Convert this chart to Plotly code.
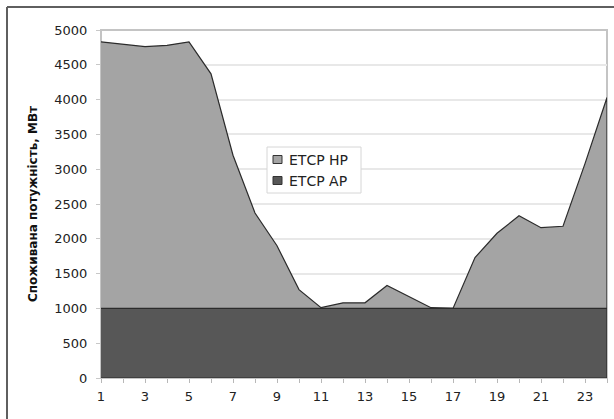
import plotly.graph_objects as go

# Hourly power consumption, MW
hours = list(range(1, 25))
etsr_np = [4830, 4800, 4760, 4780, 4830, 4370, 3200, 2370, 1900, 1270, 1010, 1080,
           1080, 1330, 1170, 1010, 1000, 1730, 2080, 2330, 2160, 2180, 3080, 4030]
etsr_ap = [1000] * 24
x_tick_labels = [str(h) if h % 2 == 1 else "" for h in hours]
y_title = "Споживана потужність, МВт"
names = ["ЕТСР НР", "ЕТСР АР"]
fills = ["#a4a4a4", "#575757"]

W, H = 614, 419
L, R, T, B = 101, 7, 30, 41
pw, ph = W - L - R, H - T - B


def px_x(p):
    return (p - L) / pw


def px_y(p):
    return (H - B - p) / ph


def closed(xs, ys):
    # close the area polygon down to the baseline so its outline is drawn all round
    return xs + [xs[-1], xs[0]], ys + [0, 0]


fig = go.Figure()
for vals, name, fill in zip([etsr_np, etsr_ap], names, fills):
    xs, ys = closed(hours, vals)
    fig.add_trace(go.Scatter(
        x=xs, y=ys, name=name, mode="lines", fill="toself", fillcolor=fill,
        line=dict(color="#2b2b2b", width=1.2), hoverinfo="skip", showlegend=False,
    ))

tick_font = dict(family="DejaVu Sans", size=13, color="#222")

shapes = [
    # plot area frame
    dict(type="rect", xref="paper", yref="paper", x0=0, x1=1, y0=0, y1=1,
         line=dict(color="#c4c4c4", width=2), layer="below"),
    # outer chart frame (top and left edges)
    dict(type="line", xref="paper", yref="paper", x0=px_x(7), x1=px_x(W + 5),
         y0=px_y(7), y1=px_y(7), line=dict(color="#5f5f5f", width=2)),
    dict(type="line", xref="paper", yref="paper", x0=px_x(7), x1=px_x(7),
         y0=px_y(7), y1=px_y(H + 5), line=dict(color="#5f5f5f", width=2)),
    # legend box
    dict(type="rect", xref="paper", yref="paper", x0=px_x(267), x1=px_x(361),
         y0=px_y(193), y1=px_y(147), fillcolor="white",
         line=dict(color="#d6d6d6", width=1)),
]
annotations = [dict(
    text=y_title, xref="paper", yref="paper", x=px_x(33), y=0.5,
    textangle=-90, showarrow=False, xanchor="center", yanchor="middle",
    font=dict(family="DejaVu Sans", size=12, color="#111", weight="bold"),
)]

# legend entries: small swatch + label per series
for i, (name, fill) in enumerate(zip(names, fills)):
    cy = 159.5 + 21 * i
    shapes.append(dict(type="rect", xref="paper", yref="paper",
                       x0=px_x(273), x1=px_x(282), y0=px_y(cy + 4), y1=px_y(cy - 4),
                       fillcolor=fill, line=dict(color="#333", width=1)))
    annotations.append(dict(
        text=name, xref="paper", yref="paper", x=px_x(287), y=px_y(cy),
        xanchor="left", yanchor="middle", showarrow=False,
        font=dict(family="DejaVu Sans", size=14, color="#222"),
    ))

fig.update_layout(
    width=W, height=H,
    margin=dict(l=L, r=R, t=T, b=B),
    paper_bgcolor="white", plot_bgcolor="white",
    showlegend=False,
    xaxis=dict(
        range=[1, 24], tickmode="array", tickvals=hours, ticktext=x_tick_labels,
        ticks="outside", ticklen=4, tickcolor="#b8b8b8", showgrid=False,
        zeroline=False, showline=False, tickfont=tick_font, ticklabelstandoff=2,
    ),
    yaxis=dict(
        range=[0, 5000], dtick=500, ticks="outside", ticklen=4, tickcolor="#c8c8c8",
        showgrid=True, gridcolor="#e8e8e8", gridwidth=1.5, zeroline=False,
        showline=False, tickfont=tick_font, ticklabelstandoff=6,
    ),
    annotations=annotations,
    shapes=shapes,
)

fig.write_html("out.html")
